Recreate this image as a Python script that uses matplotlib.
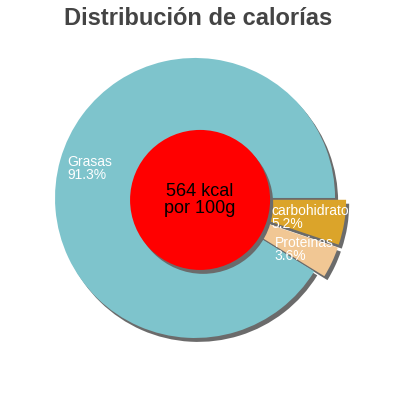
import numpy as np
import matplotlib.pyplot as plt
from matplotlib.patches import Circle

plt.rcParams['font.family'] = ['Liberation Sans', 'DejaVu Sans']

# datos (en el orden en que se dibujan, sentido horario desde 0 grados)
nombres = ["carbohidratos", "Proteinas", "Grasas"]
porcentajes = [5.2, 3.6, 91.3]
colores = ["#dba42a", "#f1c794", "#7ec4cc"]
separacion = [0.08, 0.08, 0.0]
titulo = "Distribución de calorías"
texto_centro = "564 kcal\npor 100g"

fig = plt.figure(figsize=(4, 4), dpi=100)
ax = fig.add_axes([0, 0, 1, 1])

# sombra: la misma torta en gris, corrida abajo a la derecha
sombra = (0.022, -0.028)
ax.pie(porcentajes, explode=separacion, colors=["#6b6b6b"] * 3,
       startangle=0, counterclock=False, center=sombra,
       wedgeprops=dict(linewidth=0))

wedges, _ = ax.pie(porcentajes, explode=separacion, colors=colores,
                   startangle=0, counterclock=False,
                   wedgeprops=dict(linewidth=0))

# etiquetas dentro de cada porcion
for w, nombre, p in zip(wedges, nombres, porcentajes):
    ang = np.deg2rad((w.theta1 + w.theta2) / 2)
    cx, cy = w.center
    ax.text(cx + 0.78 * np.cos(ang), cy + 0.78 * np.sin(ang),
            f"{nombre}\n{p}%", color="white", fontsize=10,
            ha="center", va="center", multialignment="left",
            linespacing=0.9)

# circulo rojo del centro con su sombra
c0 = (0.036, -0.014)
ax.add_patch(Circle((c0[0] + sombra[0], c0[1] + sombra[1]), 0.5,
                    color="#6b6b6b", lw=0))
ax.add_patch(Circle(c0, 0.5, color="#ff0000", lw=0))
ax.text(c0[0], c0[1], texto_centro, fontsize=13, ha="center",
        va="center", color="black", linespacing=1.0)

ax.set_xlim(-1.393, 1.464)
ax.set_ylim(-1.443, 1.414)
ax.set_aspect("auto")
ax.axis("off")

fig.text(0.495, 1 - 25 / 400, titulo, fontsize=17, fontweight="bold",
         color="#444444", ha="center", va="baseline")

fig.savefig("out.png", dpi=100)
